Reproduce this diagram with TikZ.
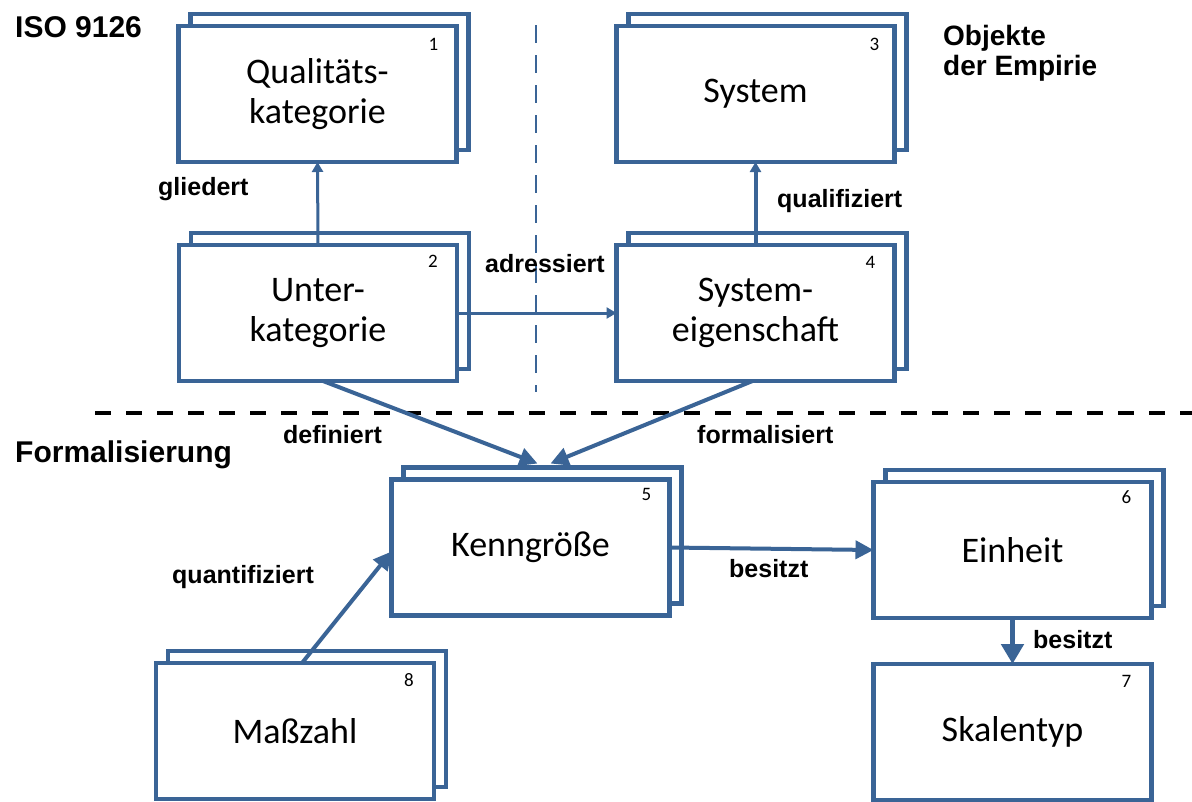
\documentclass[tikz,border=0pt]{standalone}
\usepackage{fontspec}
\setmainfont{Carlito}
\newfontfamily\labfont{Liberation Sans}
\usetikzlibrary{arrows.meta,shadows}
\definecolor{boxblue}{RGB}{58,100,150}
\begin{document}
\begin{tikzpicture}[x=1pt,y=-1pt,
 box/.style={draw=boxblue, line width=4.5pt, fill=white, minimum width=278pt, minimum height=136pt, inner sep=0pt, outer sep=0pt, align=center, font=\fontsize{36}{40}\selectfont},
 stack/.style={box, copy shadow={shadow xshift=12pt, shadow yshift=12pt}},
 num/.style={font=\fontsize{19}{22}\selectfont, inner sep=0pt},
 lab/.style={font=\labfont\bfseries\fontsize{25}{30}\selectfont, anchor=base west, inner sep=0pt},
 head/.style={font=\labfont\bfseries\fontsize{30}{34}\selectfont, anchor=base west, inner sep=0pt},
 conn/.style={draw=boxblue, line width=3pt, -{Triangle[length=10pt,width=11pt]}},
 bigconn/.style={draw=boxblue, line width=4pt, -{Triangle[length=18pt,width=18pt]}},
 vdash/.style={draw=boxblue, line width=2.5pt, dash pattern=on 18pt off 12pt},
 hdash/.style={draw=black, line width=3.5pt, dash pattern=on 16pt off 15pt},
]
\useasboundingbox (0,0) rectangle (1192,801);
\fill[white] (0,0) rectangle (1192,801);

% separators
\coordinate (vtop) at (536,25);
\coordinate (vbot) at (536,392);
\draw[vdash] (vtop) -- (vbot);
\coordinate (hl) at (95,413);
\coordinate (hr) at (1192,413);
\draw[hdash] (hl) -- (hr);

% boxes
\node[stack] (b1) at (317.5,94) {Qualitäts-\\kategorie};
\node[stack] (b2) at (318,313) {Unter-\\kategorie};
\node[stack] (b3) at (755.5,94) {System};
\node[stack] (b4) at (755.5,313) {System-\\eigenschaft};
\node[stack] (b5) at (530.5,547.5) {Kenngröße};
\node[stack] (b6) at (1012.5,550) {Einheit};
\node[box]   (b7) at (1012.5,732) {Skalentyp};
\node[stack] (b8) at (295,731) {Maßzahl};

% numbers
\node[num] (n1) at ([xshift=-23pt,yshift=-18pt]b1.north east) {1};
\node[num] (n2) at ([xshift=-24pt,yshift=-16pt]b2.north east) {2};
\node[num] (n3) at ([xshift=-20pt,yshift=-18pt]b3.north east) {3};
\node[num] (n4) at ([xshift=-24pt,yshift=-17pt]b4.north east) {4};
\node[num] (n5) at ([xshift=-23pt,yshift=-15pt]b5.north east) {5};
\node[num] (n6) at ([xshift=-25pt,yshift=-15pt]b6.north east) {6};
\node[num] (n7) at ([xshift=-25pt,yshift=-17pt]b7.north east) {7};
\node[num] (n8) at ([xshift=-25pt,yshift=-17pt]b8.north east) {8};

% connectors
\draw[conn] (b2.north) -- (b1.south);
\draw[conn] (b2.east) -- (b4.west);
\draw[conn, line width=4pt] (b4.north) -- (b3.south);
\draw[bigconn] ([xshift=5pt]b2.south) -- ([xshift=7pt,yshift=16pt]b5.north);
\draw[bigconn] ([xshift=-3pt]b4.south) -- ([xshift=20pt,yshift=16pt]b5.north);
\draw[bigconn] (b5.east) -- (b6.west);
\draw[bigconn, line width=5pt, -{Triangle[length=20pt,width=22pt]}] (b6.south) -- (b7.north);
\draw[bigconn] ([xshift=7pt]b8.north) -- ([yshift=-4pt]b5.west);

% labels
\node[head] (iso) at (15,37) {ISO 9126};
\node[head, font=\labfont\bfseries\fontsize{28}{30}\selectfont] (obj1) at (943,45) {Objekte};
\node[head, font=\labfont\bfseries\fontsize{28}{30}\selectfont] (obj2) at (943,75) {der Empirie};
\node[head] (form) at (15,462) {Formalisierung};
\node[lab] (l1) at (158,195) {gliedert};
\node[lab] (l2) at (485,272) {adressiert};
\node[lab] (l3) at (777,207) {qualifiziert};
\node[lab] (l4) at (283,443) {definiert};
\node[lab] (l5) at (697,443) {formalisiert};
\node[lab] (l6) at (729,577) {besitzt};
\node[lab] (l7) at (1033,648) {besitzt};
\node[lab] (l8) at (172,583) {quantifiziert};
\end{tikzpicture}
\end{document}
